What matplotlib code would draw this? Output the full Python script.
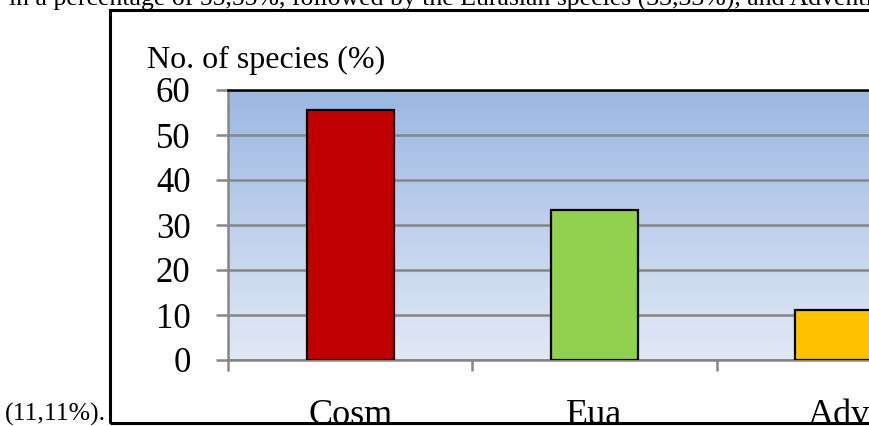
import numpy as np
import matplotlib
matplotlib.use("Agg")
from matplotlib import pyplot as plt
from matplotlib.patches import Rectangle

# share of species by chorological group
groups = ["Cosm", "Eua", "Adv"]
percent = [55.55, 33.33, 11.11]
bar_colors = ["#c00000", "#92d050", "#ffc000"]
yticks = [0, 10, 20, 30, 40, 50, 60]

text_above = "in a percentage of 55,55%, followed by the Eurasian species (33,33%), and Adventive"
text_left = "(11,11%)."

W, H = 869, 426
plt.rcParams['font.family'] = ['Liberation Serif', 'DejaVu Serif']

fig = plt.figure(figsize=(W / 100, H / 100), dpi=100)

def px(x, y):
    # pixel position measured from the top left -> figure fraction
    return x / W, 1 - y / H

left, top, bottom, cat_w = 228, 90, 360, 244.3
ax = fig.add_axes([left / W, (H - bottom) / H, 3 * cat_w / W, (bottom - top) / H])

# vertical blue gradient behind the bars
grad = np.linspace(0, 1, 256).reshape(-1, 1)
cmap = matplotlib.colors.LinearSegmentedColormap.from_list("bg", ["#e1e9f5", "#9cb7e3"])
ax.imshow(grad, cmap=cmap, aspect="auto", origin="lower",
          extent=[0, 3, 0, 60], zorder=0)

x = np.arange(len(groups)) + 0.5
ax.bar(x, percent, width=0.356, color=bar_colors, edgecolor="black",
       linewidth=1.6, zorder=3)

ax.set_xlim(0, 3)
ax.set_ylim(0, 60)
ax.set_yticks(yticks)
ax.set_yticklabels([str(v) for v in yticks], fontsize=25)
ax.yaxis.grid(True, color="#868686", linewidth=1.8)
for gl in ax.yaxis.get_gridlines():
    gl.set_zorder(1)

ax.set_xticks([0, 1, 2, 3])
ax.set_xticklabels([])
ax.set_xticks(x, minor=True)
ax.set_xticklabels(groups, minor=True, fontsize=26)
ax.tick_params(axis="x", which="minor", length=0, pad=28)
ax.tick_params(axis="x", which="major", length=8, width=1.8, color="#868686")
ax.tick_params(axis="y", length=9, width=1.8, color="#868686", pad=18)

ax.spines["left"].set_color("#868686")
ax.spines["left"].set_linewidth(1.8)
ax.spines["bottom"].set_color("#868686")
ax.spines["bottom"].set_linewidth(1.8)
ax.spines["top"].set_color("black")
ax.spines["top"].set_linewidth(1.8)
ax.spines["right"].set_visible(False)

fig.text(*px(147, 68), "No. of species (%)", fontsize=23, va="baseline", ha="left")

# surrounding document text and chart frame
fig.text(*px(9, 5.5), text_above, fontsize=18.5, va="baseline", ha="left")
fig.text(*px(5, 421), text_left, fontsize=18.5, va="baseline", ha="left")

x0, y0 = px(110, 423)
fig.add_artist(Rectangle((x0, 0), 1, 3 / H, transform=fig.transFigure,
                         facecolor="white", edgecolor="none", zorder=5))
x1, y1 = px(110, 10)
fig.add_artist(Rectangle((x0, y0), 1.2 - x0, y1 - y0, transform=fig.transFigure,
                         facecolor="none", edgecolor="black", linewidth=2.2, zorder=6))

fig.savefig("out.png", dpi=100)
